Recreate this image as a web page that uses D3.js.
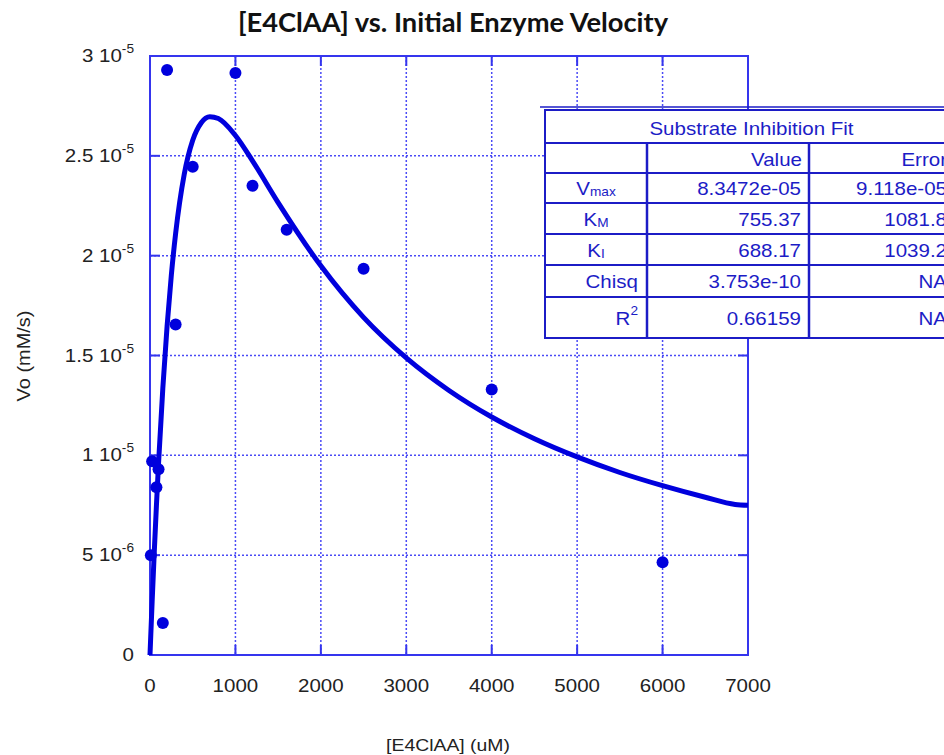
<!DOCTYPE html>
<html>
<head>
<meta charset="utf-8">
<script src="https://cdn.jsdelivr.net/npm/d3@7"></script>
<style>
  body { margin: 0; background: #fff; }
  svg { display: block; }
</style>
</head>
<body>
<svg id="chart" width="944" height="755"></svg>
<script>
// measured points: [E4ClAA] (uM) vs initial velocity (mM/s)
const concentration = [10, 25, 75, 100, 150, 200, 300, 500, 1000, 1200, 1600, 2500, 4000, 6000];
const velocity = [5.0e-6, 9.7e-6, 8.4e-6, 9.3e-6, 1.6e-6, 2.93e-5, 1.655e-5, 2.445e-5, 2.915e-5, 2.35e-5, 2.13e-5, 1.935e-5, 1.33e-5, 4.65e-6];

// fitted curve
const fitS = [0, 10, 25, 50, 75, 100, 150, 200, 250, 300, 400, 500, 600, 700, 800, 1000, 1200, 1500, 2000, 2500, 3000, 3500, 4000, 4500, 5000, 5500, 6000, 6500, 6850, 7000];
const fitV = [0, 1.09e-6, 2.67e-6, 5.16e-6, 7.47e-6, 9.6e-6, 1.335e-5, 1.647e-5, 1.904e-5, 2.111e-5, 2.406e-5, 2.578e-5, 2.666e-5, 2.696e-5, 2.687e-5, 2.602e-5, 2.475e-5, 2.266e-5, 1.949e-5, 1.691e-5, 1.488e-5, 1.325e-5, 1.192e-5, 1.083e-5, 9.92e-6, 9.14e-6, 8.48e-6, 7.9e-6, 7.54e-6, 7.5e-6];

const xTicks = [0, 1000, 2000, 3000, 4000, 5000, 6000, 7000];
const yTicks = [0, 5e-6, 1e-5, 1.5e-5, 2e-5, 2.5e-5, 3e-5];
const yTickMantissa = ["0", "5 10", "1 10", "1.5 10", "2 10", "2.5 10", "3 10"];
const yTickExponent = ["", "-6", "-5", "-5", "-5", "-5", "-5"];

// fit results table
const tableTitle = "Substrate Inhibition Fit";
const tableHeaders = ["", "Value", "Error"];
const paramNames = ["V", "K", "K", "Chisq", "R"];
const paramSubs = ["max", "M", "I", "", ""];
const paramSups = ["", "", "", "", "2"];
const paramValues = ["8.3472e-05", "755.37", "688.17", "3.753e-10", "0.66159"];
const paramErrors = ["9.118e-05", "1081.8", "1039.2", "NA", "NA"];

const svg = d3.select("#chart");
const frameColor = "#3535ee";
const markColor = "#0000dd";
const tableColor = "#1c1cc6";
const font = "'Liberation Sans', Arial, sans-serif";
const stretch = 1.14; // the original text is drawn a bit wide

const plot = { left: 150, right: 748, top: 56, bottom: 655 };
const x = d3.scaleLinear().domain([0, 7000]).range([plot.left, plot.right]);
const y = d3.scaleLinear().domain([0, 3e-5]).range([plot.bottom, plot.top]);

// put a text at (px, py), widened along its own direction
function place(sel, px, py, sx = stretch) {
  return sel.attr("transform", function (d, i) {
    const a = typeof px === "function" ? px(d, i) : px;
    const b = typeof py === "function" ? py(d, i) : py;
    return `translate(${a},${b}) scale(${sx},1)`;
  });
}

// title
svg.append("text")
  .attr("text-anchor", "middle")
  .style("font-family", "Lato, 'Open Sans', sans-serif")
  .style("font-weight", "700")
  .style("font-size", "26px")
  .style("fill", "#111")
  .text("[E4ClAA] vs. Initial Enzyme Velocity")
  .call(place, 453, 32, 1.05);

// dotted grid
const grid = svg.append("g").attr("class", "grid");
grid.selectAll(".gx")
  .data(xTicks.slice(1, -1))
  .join("line")
  .attr("x1", (d) => x(d)).attr("x2", (d) => x(d))
  .attr("y1", plot.top).attr("y2", plot.bottom)
  .attr("stroke", "#4a4af5").attr("stroke-width", 1.5)
  .attr("stroke-dasharray", "2,2");
grid.selectAll(".gy")
  .data(yTicks.slice(1, -1))
  .join("line")
  .attr("y1", (d) => y(d)).attr("y2", (d) => y(d))
  .attr("x1", plot.left).attr("x2", plot.right)
  .attr("stroke", "#4a4af5").attr("stroke-width", 1.5)
  .attr("stroke-dasharray", "2,2");

// frame with inward ticks on all sides
svg.append("rect")
  .attr("x", plot.left).attr("y", plot.top)
  .attr("width", plot.right - plot.left).attr("height", plot.bottom - plot.top)
  .attr("fill", "none").attr("stroke", frameColor).attr("stroke-width", 2);

const tickLen = 10;
const ticks = svg.append("g").attr("stroke", frameColor).attr("stroke-width", 2);
xTicks.slice(1, -1).forEach((d) => {
  ticks.append("line").attr("x1", x(d)).attr("x2", x(d)).attr("y1", plot.bottom).attr("y2", plot.bottom - tickLen);
  ticks.append("line").attr("x1", x(d)).attr("x2", x(d)).attr("y1", plot.top).attr("y2", plot.top + tickLen);
});
yTicks.slice(1, -1).forEach((d) => {
  ticks.append("line").attr("y1", y(d)).attr("y2", y(d)).attr("x1", plot.left).attr("x2", plot.left + tickLen);
  ticks.append("line").attr("y1", y(d)).attr("y2", y(d)).attr("x1", plot.right).attr("x2", plot.right - tickLen);
});

// tick labels
svg.append("g")
  .selectAll("text")
  .data(xTicks)
  .join("text")
  .attr("text-anchor", "middle")
  .style("font-family", font).style("font-size", "18px").style("fill", "#222")
  .text((d) => d)
  .call(place, (d) => x(d), 692);

const yLabels = svg.append("g")
  .selectAll("text")
  .data(yTicks)
  .join("text")
  .attr("text-anchor", "end")
  .style("font-family", font).style("font-size", "18px").style("fill", "#222")
  .call(place, 134, (d) => y(d) + 6);
yLabels.append("tspan").text((d, i) => yTickMantissa[i]);
yLabels.append("tspan")
  .attr("dy", -9)
  .style("font-size", "12px")
  .text((d, i) => yTickExponent[i]);

// axis titles
svg.append("text")
  .attr("text-anchor", "middle")
  .style("font-family", font).style("font-size", "17px").style("fill", "#222")
  .text("[E4ClAA] (uM)")
  .call(place, 448, 751);
svg.append("text")
  .attr("transform", `translate(30,356) rotate(-90) scale(${stretch},1)`)
  .attr("text-anchor", "middle")
  .style("font-family", font).style("font-size", "17.5px").style("fill", "#222")
  .text("Vo (mM/s)");

// fitted curve
const fitLine = d3.line()
  .x((d) => x(d[0]))
  .y((d) => y(d[1]))
  .curve(d3.curveMonotoneX);
svg.append("path")
  .datum(fitS.map((s, i) => [s, fitV[i]]))
  .attr("d", fitLine)
  .attr("fill", "none")
  .attr("stroke", markColor)
  .attr("stroke-width", 5)
  .attr("stroke-linejoin", "round");

// measured points
svg.append("g")
  .selectAll("circle")
  .data(concentration.map((c, i) => [c, velocity[i]]))
  .join("circle")
  .attr("cx", (d) => x(d[0]))
  .attr("cy", (d) => y(d[1]))
  .attr("r", 6)
  .attr("fill", markColor);

// results table (runs off the right edge like the original)
const table = svg.append("g").attr("class", "fit-table");
const tbl = { left: 545, right: 958, top: 110, bottom: 338 };
const cols = [545, 647, 809, 958];
const rows = [110, 143, 173, 203, 234, 265, 297, 338];

table.append("line")
  .attr("x1", 540).attr("x2", 944).attr("y1", 107).attr("y2", 107)
  .attr("stroke", tableColor).attr("stroke-width", 1.5);
table.append("rect")
  .attr("x", tbl.left).attr("y", tbl.top)
  .attr("width", tbl.right - tbl.left).attr("height", tbl.bottom - tbl.top)
  .attr("fill", "#fff").attr("stroke", tableColor).attr("stroke-width", 2);
rows.slice(1, -1).forEach((r) => {
  table.append("line").attr("x1", tbl.left).attr("x2", tbl.right).attr("y1", r).attr("y2", r)
    .attr("stroke", tableColor).attr("stroke-width", 2);
});
cols.slice(1, -1).forEach((c) => {
  table.append("line").attr("x1", c).attr("x2", c).attr("y1", rows[1]).attr("y2", tbl.bottom)
    .attr("stroke", tableColor).attr("stroke-width", 2.5);
});

const cellText = (sel) => sel
  .style("font-family", font).style("font-size", "18px").style("fill", tableColor);

table.append("text")
  .attr("text-anchor", "middle")
  .call(cellText)
  .text(tableTitle)
  .call(place, (tbl.left + tbl.right) / 2, 135);

tableHeaders.forEach((h, i) => {
  if (!h) return;
  table.append("text")
    .attr("text-anchor", "end")
    .call(cellText)
    .text(h)
    .call(place, i === 2 ? 947 : cols[i + 1] - 7, 166);
});

paramNames.forEach((name, i) => {
  const base = (rows[i + 2] + rows[i + 3]) / 2 + 7;
  const label = table.append("text").call(cellText);
  if (paramSubs[i]) {
    label.attr("text-anchor", "middle").call(place, (cols[0] + cols[1]) / 2, base);
  } else {
    label.attr("text-anchor", "end").call(place, cols[1] - 9, base);
  }
  label.append("tspan").text(name);
  if (paramSubs[i]) {
    label.append("tspan").attr("dy", 1).style("font-size", "12px").text(paramSubs[i]);
  }
  if (paramSups[i]) {
    label.append("tspan").attr("dy", -10).style("font-size", "12px").text(paramSups[i]);
  }
  table.append("text")
    .attr("text-anchor", "end")
    .call(cellText)
    .text(paramValues[i])
    .call(place, cols[2] - 8, base);
  table.append("text")
    .attr("text-anchor", "end")
    .call(cellText)
    .text(paramErrors[i])
    .call(place, 947, base);
});
</script>
</body>
</html>
